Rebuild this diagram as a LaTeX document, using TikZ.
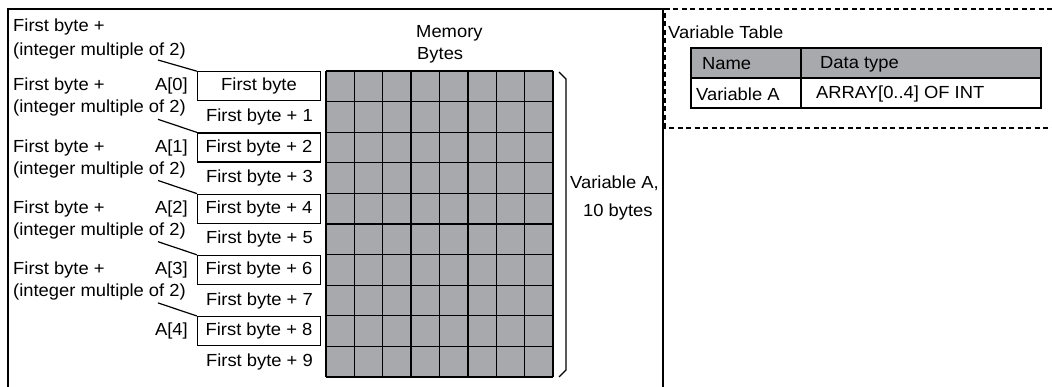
\documentclass[tikz,border=0pt]{standalone}
\usepackage{fontspec}
\setmainfont{Liberation Sans}[FakeStretch=1.05]
\definecolor{memgray}{RGB}{167,169,172}
\tikzset{
  lbl/.style={inner sep=0pt, font=\fontsize{17.5}{21}\selectfont},
  bytebox/.style={lbl, draw, line width=1.2pt, minimum width=123pt, minimum height=29pt},
}
\begin{document}
\begin{tikzpicture}[x=1pt, y=-1pt]
        \useasboundingbox (0,0) rectangle (1052,387);
        % frames
        \draw[line width=1.6pt] (8,387) -- (8,9) -- (663,9) -- (663,387);
        \draw[line width=1.8pt, dash pattern=on 5pt off 3.5pt] (1052,9) -- (665,9) -- (665,128) -- (1052,128);
        % memory grid
        \fill[memgray] (326,71) rectangle (553,377);
        \foreach \i in {0,...,8} \draw[line width=1.3pt] (326+\i*28.375,71) -- ++(0,306);
        \foreach \j in {0,...,10} \draw[line width=1.3pt] (326,71+\j*30.6) -- ++(227,0);
        \node[lbl, anchor=west, align=left] (mem) at (416,44) {Memory\\[1pt]\hspace*{1pt}Bytes};
        % bracket
        \draw[line width=1.3pt] (559,72) -- (566,79) -- (566,370) -- (559,377);
        \node[lbl, anchor=west] (va) at (570,183) {Variable A,};
        \node[lbl, anchor=west] (vb) at (583,212) {10 bytes};
        % byte rows
        \node[bytebox] (b0) at (259,86.3) {First byte};
        \foreach \n in {2,4,6,8} \node[bytebox] (b\n) at (259,71+30.6*\n+15.3) {First byte + \n};
        \foreach \n in {1,3,5,7,9} \node[lbl, anchor=east] (r\n) at (313,71+30.6*\n+15.3) {First byte + \n};
        \foreach \k in {0,...,4} \node[lbl, anchor=east] (a\k) at (188,71+61.2*\k+15.3) {A[\k]};
        % offsets
        \node[lbl, anchor=west] (f0) at (13,27) {First byte +};
        \node[lbl, anchor=west] (m0) at (13,51) {(integer multiple of 2)};
        \coordinate (c0) at (158,60);
        \draw[line width=1.2pt] (c0) -- (b0.north west);
        \foreach \n in {2,4,6,8} {
          \node[lbl, anchor=west] (f\n) at (13,71+30.6*\n-45.9) {First byte +};
          \node[lbl, anchor=west] (m\n) at (13,71+30.6*\n-23.9) {(integer multiple of 2)};
          \coordinate (c\n) at (158,71+30.6*\n-12.9);
          \draw[line width=1.2pt] (c\n) -- (b\n.north west);
        }
        % variable table
        \node[lbl, anchor=west] (vt) at (668,32) {Variable Table};
        \fill[memgray] (691,48) rectangle (1041,78);
        \draw[line width=1.8pt] (691,48) rectangle (1041,108);
        \draw[line width=1.8pt] (691,78) -- (1041,78);
        \draw[line width=1.8pt] (801,48) -- (801,108);
        \node[lbl, anchor=west] (hn) at (702,64) {Name};
        \node[lbl, anchor=west] (hd) at (820,64) {Data type};
        \node[lbl, anchor=west] (vn) at (696,94) {Variable A};
        \node[lbl, anchor=west] (vd) at (816,94) {ARRAY[0..4] OF INT};
    \end{tikzpicture}
\end{document}
